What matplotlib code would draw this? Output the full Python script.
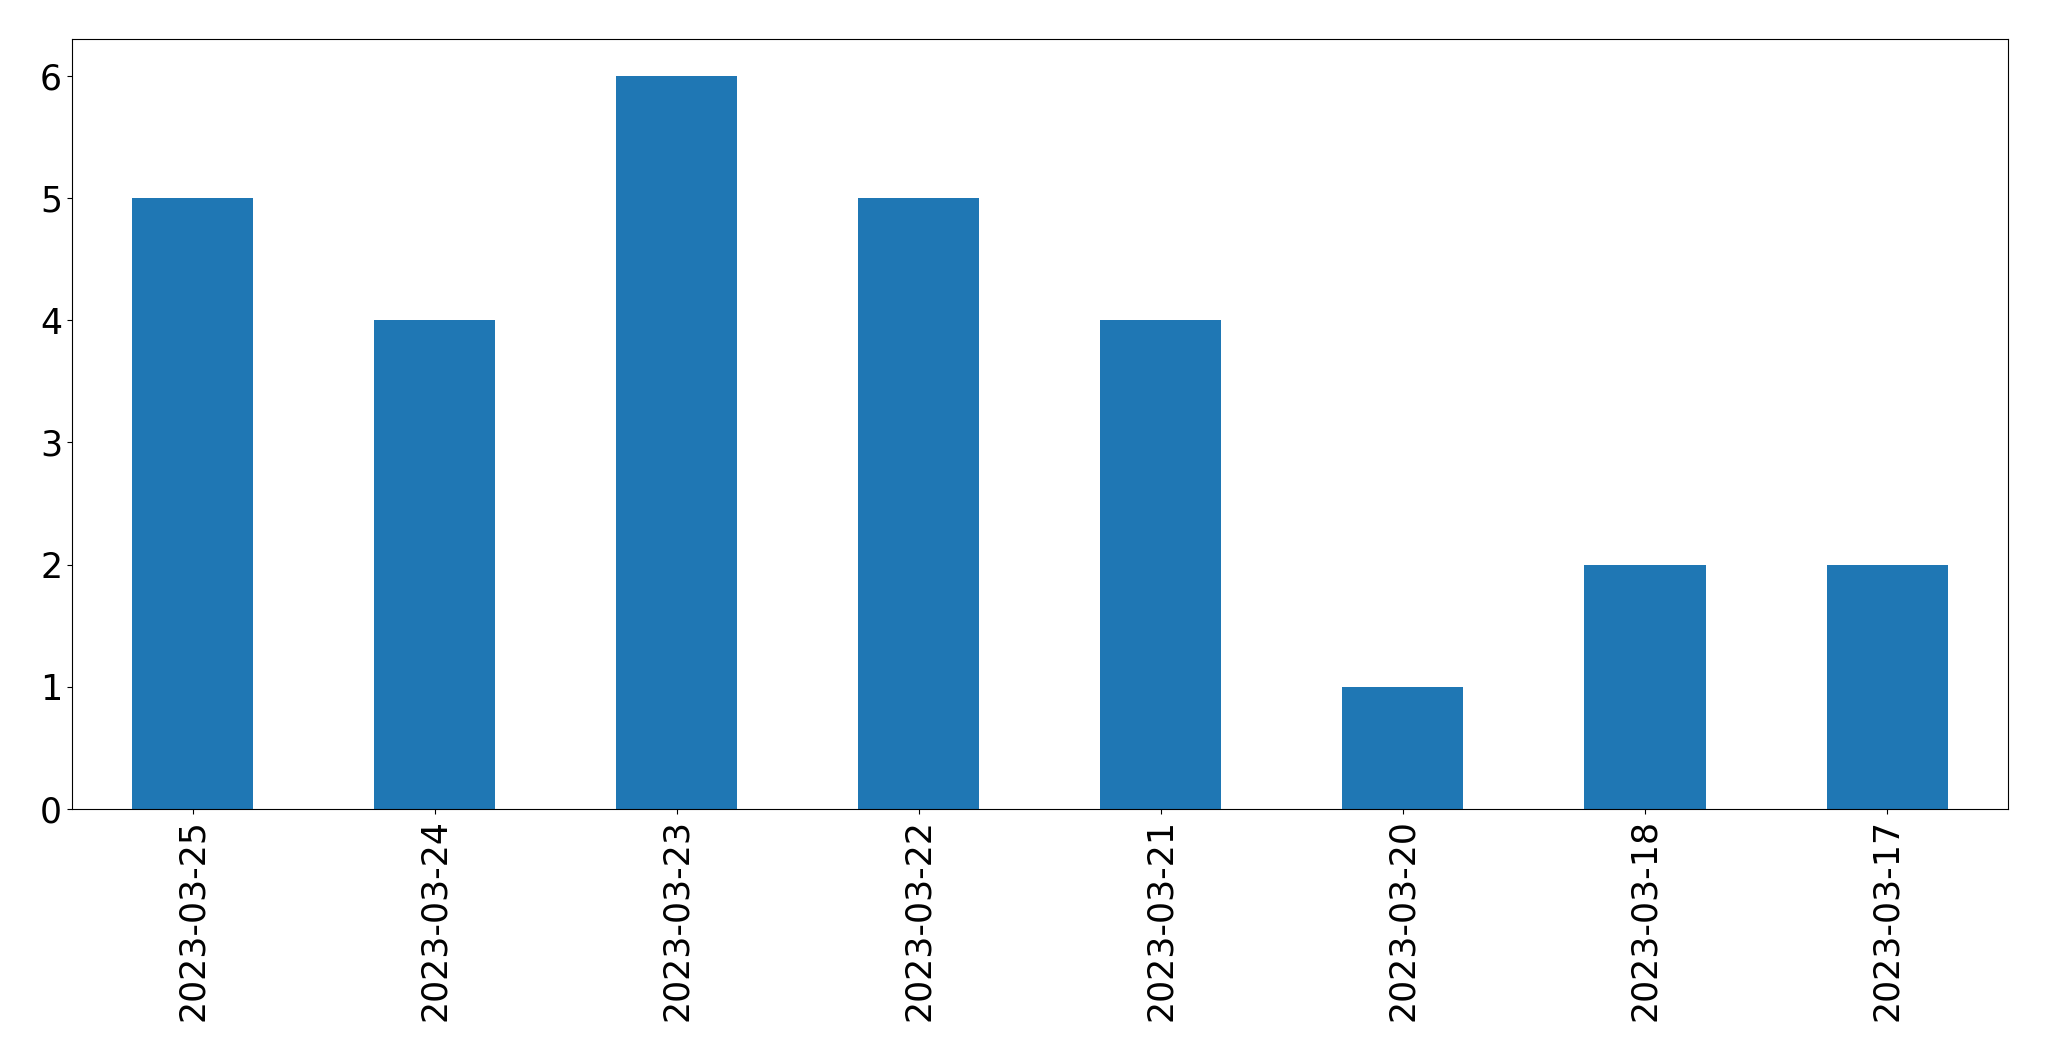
import matplotlib

matplotlib.use("Agg")
import matplotlib.pyplot as plt
import pandas as pd

dates = [
    "2023-03-25", "2023-03-24", "2023-03-23", "2023-03-22",
    "2023-03-21", "2023-03-20", "2023-03-18", "2023-03-17",
]
counts = [5, 4, 6, 5, 4, 1, 2, 2]

series = pd.Series(counts, index=dates)

fig, ax = plt.subplots(figsize=(20.49, 10.61), dpi=100)
series.plot(kind="bar", ax=ax, color="#1f77b4", fontsize=25)
ax.set_xlabel("")
fig.subplots_adjust(left=0.0351, right=0.980, top=0.9632, bottom=0.2375)
fig.savefig("out.png")
plt.close(fig)
